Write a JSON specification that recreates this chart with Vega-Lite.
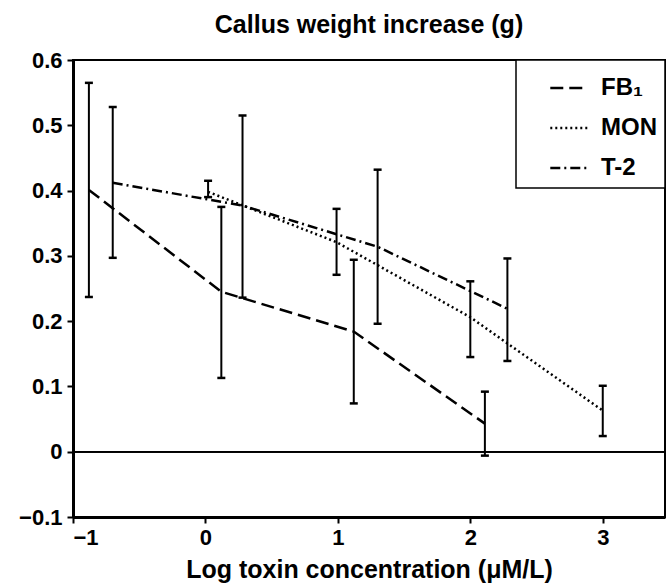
{
  "$schema": "https://vega.github.io/schema/vega-lite/v6.json",
  "autosize": "none",
  "padding": {"left": 73, "top": 60, "right": 2, "bottom": 67},
  "width": 592,
  "height": 457,
  "background": "white",
  "title": {"text": "Callus weight increase (g)", "fontSize": 25, "fontWeight": "bold", "font": "Liberation Sans", "color": "black", "anchor": "middle", "offset": 11},
  "config": {
    "font": "Liberation Sans",
    "view": {"stroke": "black", "strokeWidth": 2},
    "axis": {"grid": false, "domainColor": "black", "domainWidth": 3, "tickColor": "black", "tickWidth": 2, "tickSize": 6, "labelFont": "Liberation Sans", "labelFontWeight": "bold", "labelFontSize": 22, "labelColor": "black", "titleFont": "Liberation Sans", "titleFontWeight": "bold", "titleFontSize": 25, "titleColor": "black"}
  },
  "data": {"values": [
    {"series": "FB₁", "x": -0.88, "y": 0.401, "lo": 0.237, "hi": 0.565},
    {"series": "FB₁", "x": 0.12, "y": 0.245, "lo": 0.113, "hi": 0.375},
    {"series": "FB₁", "x": 1.12, "y": 0.184, "lo": 0.074, "hi": 0.294},
    {"series": "FB₁", "x": 2.11, "y": 0.043, "lo": -0.006, "hi": 0.092},
    {"series": "MON", "x": 0.02, "y": 0.398, "lo": 0.39, "hi": 0.415},
    {"series": "MON", "x": 0.99, "y": 0.321, "lo": 0.271, "hi": 0.372},
    {"series": "MON", "x": 2.0, "y": 0.206, "lo": 0.145, "hi": 0.261},
    {"series": "MON", "x": 3.0, "y": 0.063, "lo": 0.024, "hi": 0.101},
    {"series": "T-2", "x": -0.7, "y": 0.412, "lo": 0.297, "hi": 0.528},
    {"series": "T-2", "x": 0.28, "y": 0.377, "lo": 0.236, "hi": 0.515},
    {"series": "T-2", "x": 1.3, "y": 0.314, "lo": 0.196, "hi": 0.432},
    {"series": "T-2", "x": 2.28, "y": 0.219, "lo": 0.139, "hi": 0.296}
  ]},
  "layer": [
    {
      "mark": {"type": "rule", "color": "black", "strokeWidth": 1.2},
      "encoding": {"y": {"datum": 0, "type": "quantitative", "scale": {"domain": [-0.1, 0.6], "nice": false, "zero": false}}}
    },
    {
      "mark": {"type": "line", "color": "black", "strokeWidth": 2.5},
      "encoding": {
        "x": {"field": "x", "type": "quantitative", "scale": {"domain": [-1, 3.47], "nice": false, "zero": false},
              "axis": {"values": [-1, 0, 1, 2, 3], "format": "d", "labelPadding": 4, "titlePadding": 9, "title": "Log toxin concentration (μM/L)"}},
        "y": {"field": "y", "type": "quantitative", "scale": {"domain": [-0.1, 0.6], "nice": false, "zero": false},
              "axis": {"values": [-0.1, 0, 0.1, 0.2, 0.3, 0.4, 0.5, 0.6], "format": ".1~f", "labelPadding": 5, "title": null}},
        "strokeDash": {"field": "series", "type": "nominal",
          "scale": {"domain": ["FB₁", "MON", "T-2"], "range": [[13, 6], [2, 3], [10, 4, 2, 4]]},
          "legend": {"title": null, "orient": "top-right", "offset": 0, "padding": 8, "strokeColor": "black", "fillColor": "white",
                     "symbolType": "stroke", "symbolSize": 1400, "symbolOffset": 25, "symbolStrokeColor": "black", "symbolStrokeWidth": 2.5,
                     "labelFont": "Liberation Sans", "labelFontWeight": "bold", "labelFontSize": 24, "labelColor": "black", "labelOffset": 12, "rowPadding": 8,
                     "encode": {"legend": {"update": {"strokeWidth": {"value": 1.5}}}}}},
        "order": {"field": "x", "type": "quantitative"}
      }
    },
    {
      "mark": {"type": "rule", "color": "black", "strokeWidth": 2},
      "encoding": {
        "x": {"field": "x", "type": "quantitative"},
        "y": {"field": "lo", "type": "quantitative"},
        "y2": {"field": "hi"}
      }
    },
    {
      "mark": {"type": "tick", "orient": "horizontal", "color": "black", "size": 8, "thickness": 2.5, "opacity": 1},
      "encoding": {
        "x": {"field": "x", "type": "quantitative"},
        "y": {"field": "hi", "type": "quantitative"}
      }
    },
    {
      "mark": {"type": "tick", "orient": "horizontal", "color": "black", "size": 8, "thickness": 2.5, "opacity": 1},
      "encoding": {
        "x": {"field": "x", "type": "quantitative"},
        "y": {"field": "lo", "type": "quantitative"}
      }
    }
  ]
}
